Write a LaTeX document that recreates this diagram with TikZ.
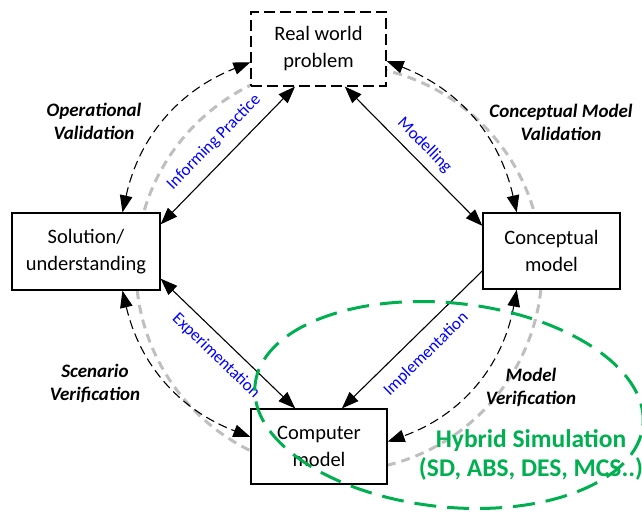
\documentclass[tikz,border=0pt]{standalone}
\usepackage{fontspec}
\setmainfont{Carlito}
\usetikzlibrary{arrows.meta}

\definecolor{hybridgreen}{RGB}{0,176,80}

\begin{document}
\begin{tikzpicture}[x=1pt, y=1pt, >={Triangle[length=17pt,width=12.5pt]},
    box/.style={draw, fill=white, line width=1.2pt, align=center, inner sep=0pt,
      font=\fontsize{20.5}{27}\selectfont},
    flow/.style={line width=1.1pt},
    flowlabel/.style={sloped, text=blue, font=\fontsize{17}{20}\selectfont},
    vvarc/.style={<->, dashed, dash pattern=on 9pt off 5pt, line width=1.1pt},
    vvlabel/.style={align=center, font=\fontsize{19}{23}\selectfont\bfseries\itshape},
    graycycle/.style={gray!50, line width=3pt, dash pattern=on 9pt off 6pt},
    hybrid/.style={hybridgreen, line width=3pt, dash pattern=on 22pt off 11pt}]
    \useasboundingbox (0,0) rectangle (642,-512);

    % Background cycle
    \draw[graycycle] (339,-268) circle (203pt);

    % Stages
    \node[box, dashed, dash pattern=on 11pt off 5pt, minimum width=135pt, minimum height=74pt]
      (real) at (318.5,-49) {Real world\\problem};
    \node[box, minimum width=148pt, minimum height=77pt] (sol) at (86,-251.5) {Solution/\\understanding};
    \node[box, minimum width=137pt, minimum height=76pt] (concept) at (551.5,-251) {Conceptual\\model};
    \node[box, minimum width=136pt, minimum height=75pt] (comp) at (319,-446.5) {Computer\\model};

    % Activities
    \draw[flow, <->] (sol.20) -- node[flowlabel, above=8pt] {Informing Practice} (real.238);
    \draw[flow, <->] (real.305) -- node[flowlabel, above=4pt] {Modelling} (concept.160);
    \draw[flow, <->] (sol.340) -- node[flowlabel, below=6pt] {Experimentation} (comp.122);
    \draw[flow, <-] (comp.59) -- node[flowlabel, below=9pt] {Implementation} (concept.196);

    % Validation and verification
    \draw[vvarc] (sol.47) to[bend left=28] (real.191);
    \draw[vvarc] (real.350) to[bend left=28] (concept.132);
    \draw[vvarc] (concept.228) to[bend left=30] (comp.4);
    \draw[vvarc] (sol.313) to[bend right=28] (comp.172);
    \node[vvlabel] (opval) at (94,-121) {Operational\\Validation};
    \node[vvlabel] (cmval) at (561,-122) {Conceptual Model\\Validation};
    \node[vvlabel] (scver) at (95,-383) {Scenario\\Verification};
    \node[vvlabel] (mver) at (531,-387) {Model\\Verification};

    % Hybrid simulation
    \draw[hybrid] (449,-405) ellipse [x radius=195pt, y radius=102pt, rotate=-6];
    \node[text=hybridgreen, align=center, font=\fontsize{25.5}{29}\selectfont\bfseries]
      (hs) at (531,-455) {Hybrid Simulation\\(SD, ABS, DES, MCS..)};
\end{tikzpicture}
\end{document}
